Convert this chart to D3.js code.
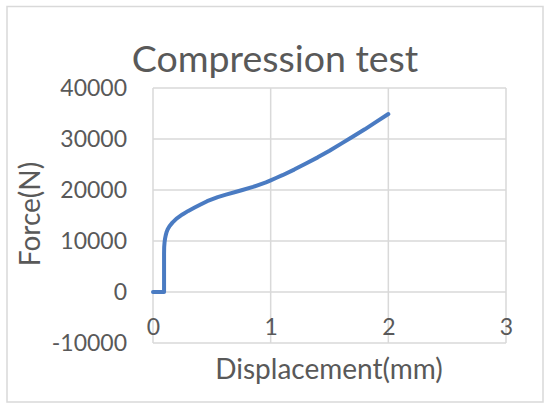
<!DOCTYPE html>
<html>
<head>
<meta charset="utf-8">
<script src="https://cdn.jsdelivr.net/npm/d3@7"></script>
<style>
  html, body { margin: 0; padding: 0; background: #fff; }
  svg { display: block; font-family: Lato, "Open Sans", sans-serif; }
</style>
</head>
<body>
<svg id="chart" width="550" height="410"></svg>
<script>
const title = "Compression test";
const xTitle = "Displacement(mm)";
const yTitle = "Force(N)";
const xTicks = [0, 1, 2, 3];
const yTicks = [-10000, 0, 10000, 20000, 30000, 40000];
const displacement = [0, 0.094, 0.094, 0.095, 0.098, 0.102, 0.108, 0.115, 0.125, 0.14, 0.165, 0.2, 0.25, 0.3, 0.35, 0.4, 0.46, 0.55, 0.62, 0.7, 0.76, 0.85, 0.96, 1.0, 1.05, 1.1, 1.2, 1.3, 1.4, 1.5, 1.6, 1.7, 1.8, 1.9, 2.0];
const force = [0, 0, 7500, 8800, 9700, 10400, 11100, 11700, 12300, 12900, 13600, 14400, 15200, 15900, 16500, 17100, 17800, 18600, 19100, 19600, 20000, 20600, 21500, 21900, 22400, 22900, 24000, 25200, 26400, 27700, 29100, 30500, 31900, 33400, 34900];

const svg = d3.select("#chart");
const textColor = "#595959";
const gridColor = "#d9d9d9";
const lineColor = "#4a7bc2";

svg.append("rect").attr("x", 7).attr("y", 6.5).attr("width", 536).attr("height", 395.5)
  .attr("fill", "#fff").attr("stroke", gridColor).attr("stroke-width", 1.5);

const x = d3.scaleLinear().domain([0, 3]).range([153, 506]);
const y = d3.scaleLinear().domain([-10000, 40000]).range([343, 88]);

// gridlines
svg.append("g").selectAll("line").data(yTicks).join("line")
  .attr("x1", x(0)).attr("x2", x(3)).attr("y1", d => y(d)).attr("y2", d => y(d))
  .attr("stroke", gridColor).attr("stroke-width", 1.5);
svg.append("g").selectAll("line").data(xTicks).join("line")
  .attr("y1", y(-10000)).attr("y2", y(40000)).attr("x1", d => x(d)).attr("x2", d => x(d))
  .attr("stroke", gridColor).attr("stroke-width", 1.5);

// y axis labels
const yAxis = d3.axisLeft(y).tickValues(yTicks).tickSize(0).tickPadding(0).tickFormat(d => String(d));
const gy = svg.append("g").attr("transform", "translate(127,0)").call(yAxis);
gy.select(".domain").remove();
gy.selectAll("text").attr("font-size", 23).attr("fill", textColor).attr("font-family", "Lato");

// x axis labels (axis crosses at 0)
const xAxis = d3.axisBottom(x).tickValues(xTicks).tickSize(0).tickPadding(0).tickFormat(d => String(d));
const gx = svg.append("g").attr("transform", `translate(0,${y(0) + 43})`).call(xAxis);
gx.select(".domain").remove();
gx.selectAll("text").attr("font-size", 23).attr("fill", textColor).attr("font-family", "Lato").attr("dy", 0);

// line
const pts = displacement.map((d, i) => [d, force[i]]);
svg.append("path").datum(pts)
  .attr("fill", "none").attr("stroke", lineColor).attr("stroke-width", 4)
  .attr("stroke-linejoin", "round").attr("stroke-linecap", "round")
  .attr("d", d3.line().x(d => x(d[0])).y(d => y(d[1])));

// titles
svg.append("text").attr("x", 275).attr("y", 72).attr("text-anchor", "middle")
  .attr("font-size", 37.5).attr("fill", textColor).text(title);
svg.append("text").attr("x", 329).attr("y", 379).attr("text-anchor", "middle")
  .attr("font-size", 28).attr("fill", textColor).text(xTitle);
svg.append("text").attr("transform", "translate(40,214) rotate(-90)").attr("text-anchor", "middle")
  .attr("font-size", 28).attr("fill", textColor).text(yTitle);
</script>
</body>
</html>
